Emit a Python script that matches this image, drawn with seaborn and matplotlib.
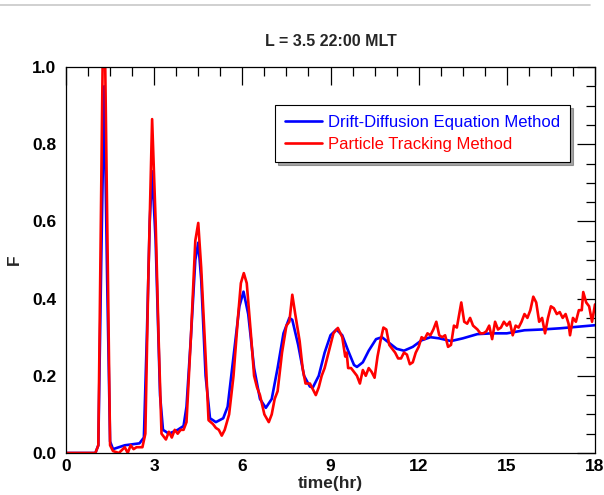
import matplotlib
matplotlib.use("Agg")
import matplotlib.pyplot as plt
from matplotlib.lines import Line2D
from matplotlib.ticker import MultipleLocator, FormatStrFormatter
import seaborn as sns
import pandas as pd

# drift-diffusion equation solution (smooth)
dd_time = [0, 1.0, 1.1, 1.2, 1.3, 1.4, 1.5, 1.6, 2.0, 2.5, 2.65, 2.75, 2.85, 2.93,
           3.05, 3.2, 3.3, 3.5, 3.8, 4.0, 4.1, 4.25, 4.4, 4.5, 4.6, 4.75, 4.9,
           5.1, 5.35, 5.5, 5.7, 5.9, 6.04, 6.2, 6.4, 6.6, 6.8, 7.0, 7.2, 7.4,
           7.6, 7.7, 7.9, 8.1, 8.3, 8.4, 8.6, 8.8, 9.0, 9.2, 9.4, 9.6, 9.8, 9.9,
           10.1, 10.3, 10.55, 10.75, 11.0, 11.25, 11.5, 11.8, 12.1, 12.4, 12.7,
           13.1, 13.5, 14.0, 14.5, 15.0, 15.6, 16.2, 16.8, 17.4, 18.0]
dd_f = [0, 0, 0.02, 0.5, 0.95, 0.45, 0.03, 0.01, 0.02, 0.025, 0.04, 0.3, 0.6, 0.73,
        0.55, 0.15, 0.06, 0.05, 0.06, 0.07, 0.12, 0.3, 0.5, 0.545, 0.45, 0.2, 0.09,
        0.08, 0.09, 0.12, 0.25, 0.38, 0.418, 0.36, 0.22, 0.14, 0.117, 0.14, 0.22, 0.31,
        0.35, 0.345, 0.28, 0.2, 0.172, 0.17, 0.2, 0.26, 0.305, 0.32, 0.305, 0.265, 0.228, 0.223,
        0.235, 0.265, 0.295, 0.30, 0.285, 0.27, 0.265, 0.275, 0.292, 0.30, 0.297,
        0.29, 0.297, 0.308, 0.31, 0.31, 0.318, 0.32, 0.323, 0.327, 0.331]

# particle tracking result (noisy)
pt_time = [0, 1.0, 1.1, 1.17, 1.25, 1.33, 1.42, 1.5, 1.6, 1.8, 2.0, 2.1, 2.2, 2.3, 2.4,
           2.6, 2.7, 2.8, 2.93, 3.05, 3.15, 3.25, 3.4, 3.5, 3.6, 3.7, 3.8, 3.9, 4.0,
           4.1, 4.25, 4.4, 4.5, 4.6, 4.75, 4.85, 5.0, 5.1, 5.2, 5.3, 5.4, 5.55, 5.7,
           5.85, 5.95, 6.05, 6.15, 6.3, 6.4, 6.5, 6.6, 6.75, 6.9, 7.0, 7.1, 7.2, 7.35,
           7.5, 7.6, 7.7, 7.8, 7.95, 8.05, 8.15, 8.3, 8.4, 8.5, 8.6, 8.7, 8.8, 8.95,
           9.1, 9.25, 9.4, 9.5, 9.55, 9.6, 9.7, 9.8, 9.9, 10.0, 10.1, 10.2, 10.3, 10.4,
           10.5, 10.6, 10.7, 10.8, 10.9, 11.0, 11.1, 11.2, 11.3, 11.4, 11.5, 11.6, 11.7,
           11.8, 11.9, 12.0, 12.1, 12.2, 12.3, 12.4, 12.5, 12.6, 12.7, 12.8, 12.9, 13.0,
           13.1, 13.2, 13.3, 13.45, 13.55, 13.65, 13.75, 13.85, 14.0, 14.1, 14.2, 14.3,
           14.4, 14.5, 14.6, 14.7, 14.8, 14.9, 15.0, 15.1, 15.2, 15.3, 15.4, 15.5, 15.6,
           15.7, 15.8, 15.9, 16.0, 16.1, 16.2, 16.3, 16.4, 16.5, 16.6, 16.7, 16.8, 16.9,
           17.0, 17.1, 17.15, 17.25, 17.35, 17.45, 17.55, 17.6, 17.7, 17.8, 17.9, 18.0]
pt_f = [0, 0, 0.02, 0.5, 1.03, 1.03, 0.5, 0.02, 0.005, 0.0, 0.015, 0.0, 0.02, 0.01, 0.015,
        0.015, 0.05, 0.45, 0.865, 0.6, 0.3, 0.05, 0.035, 0.055, 0.04, 0.06, 0.05, 0.06, 0.06,
        0.08, 0.3, 0.55, 0.596, 0.48, 0.25, 0.085, 0.075, 0.065, 0.06, 0.045, 0.06, 0.1, 0.2,
        0.35, 0.44, 0.466, 0.44, 0.3, 0.2, 0.17, 0.15, 0.1, 0.08, 0.1, 0.14, 0.16, 0.26,
        0.33, 0.34, 0.41, 0.36, 0.29, 0.22, 0.18, 0.18, 0.165, 0.15, 0.17, 0.2, 0.22, 0.265,
        0.31, 0.324, 0.3, 0.25, 0.26, 0.22, 0.22, 0.21, 0.2, 0.18, 0.215, 0.2, 0.22, 0.21,
        0.195, 0.25, 0.29, 0.325, 0.32, 0.28, 0.27, 0.26, 0.245, 0.245, 0.26, 0.255, 0.23,
        0.235, 0.26, 0.275, 0.30, 0.295, 0.31, 0.305, 0.32, 0.34, 0.305, 0.3, 0.305, 0.275,
        0.28, 0.33, 0.325, 0.39, 0.34, 0.335, 0.35, 0.33, 0.32, 0.31, 0.31, 0.315,
        0.33, 0.295, 0.34, 0.32, 0.325, 0.34, 0.33, 0.34, 0.305, 0.33, 0.325, 0.34, 0.36,
        0.35, 0.37, 0.405, 0.39, 0.34, 0.35, 0.31, 0.35, 0.38, 0.375, 0.36, 0.365, 0.35,
        0.36, 0.335, 0.305, 0.35, 0.34, 0.37, 0.37, 0.417, 0.39, 0.38, 0.34, 0.385]

sns.set_theme(style="white")
plt.rcParams['font.family'] = ['Liberation Sans', 'DejaVu Sans']

dd = pd.DataFrame({'time': dd_time, 'F': dd_f})
pt = pd.DataFrame({'time': pt_time, 'F': pt_f})

fig = plt.figure(figsize=(6.04, 4.95), dpi=100)
ax = fig.add_axes([66/604, 1 - 453/495, (595 - 66)/604, (453 - 67)/495])

sns.lineplot(data=dd, x='time', y='F', ax=ax, color='#0000ff', lw=1.9,
             label='Drift-Diffusion Equation Method')
sns.lineplot(data=pt, x='time', y='F', ax=ax, color='#ff0000', lw=1.9,
             label='Particle Tracking Method')

ax.set_xlim(0, 18)
ax.set_ylim(0, 1.0)
ax.xaxis.set_major_locator(MultipleLocator(3))
ax.xaxis.set_minor_locator(MultipleLocator(0.75))
ax.yaxis.set_major_locator(MultipleLocator(0.2))
ax.yaxis.set_minor_locator(MultipleLocator(0.05))
ax.yaxis.set_major_formatter(FormatStrFormatter('%.1f'))
ax.tick_params(which='both', direction='in', top=True, right=True, colors='black')
ax.tick_params(which='major', length=13, width=0.9, labelsize=12.5)
ax.tick_params(axis='x', which='major', pad=4)
ax.tick_params(axis='y', which='major', pad=7)
ax.tick_params(which='minor', length=6.5, width=0.9)
for lbl in ax.get_xticklabels() + ax.get_yticklabels():
    lbl.set_fontweight('bold')
for sp in ax.spines.values():
    sp.set_color('black')
    sp.set_linewidth(0.9)

ax.set_xlabel('time(hr)', fontsize=12.5, fontweight='bold', labelpad=2)
ax.set_ylabel('F', fontsize=12.5, fontweight='bold', labelpad=7)
ax.set_title('L = 3.5 22:00 MLT', fontsize=11.5, fontweight='bold', pad=15)

leg = ax.legend(loc='upper left', bbox_to_anchor=(0.395, 0.902), borderaxespad=0,
                fontsize=12, frameon=True, fancybox=False, shadow=True,
                handlelength=2.2, borderpad=0.6, labelspacing=0.45, handletextpad=0.4)
leg.get_frame().set_edgecolor('black')
leg.get_frame().set_linewidth(0.8)
for txt, c in zip(leg.get_texts(), ['#0000ff', '#ff0000']):
    txt.set_color(c)

fig.add_artist(Line2D([0, 590/604], [1 - 5/495, 1 - 5/495], color='#c8c8c8', lw=1.2))

fig.savefig('out.png', dpi=100)
